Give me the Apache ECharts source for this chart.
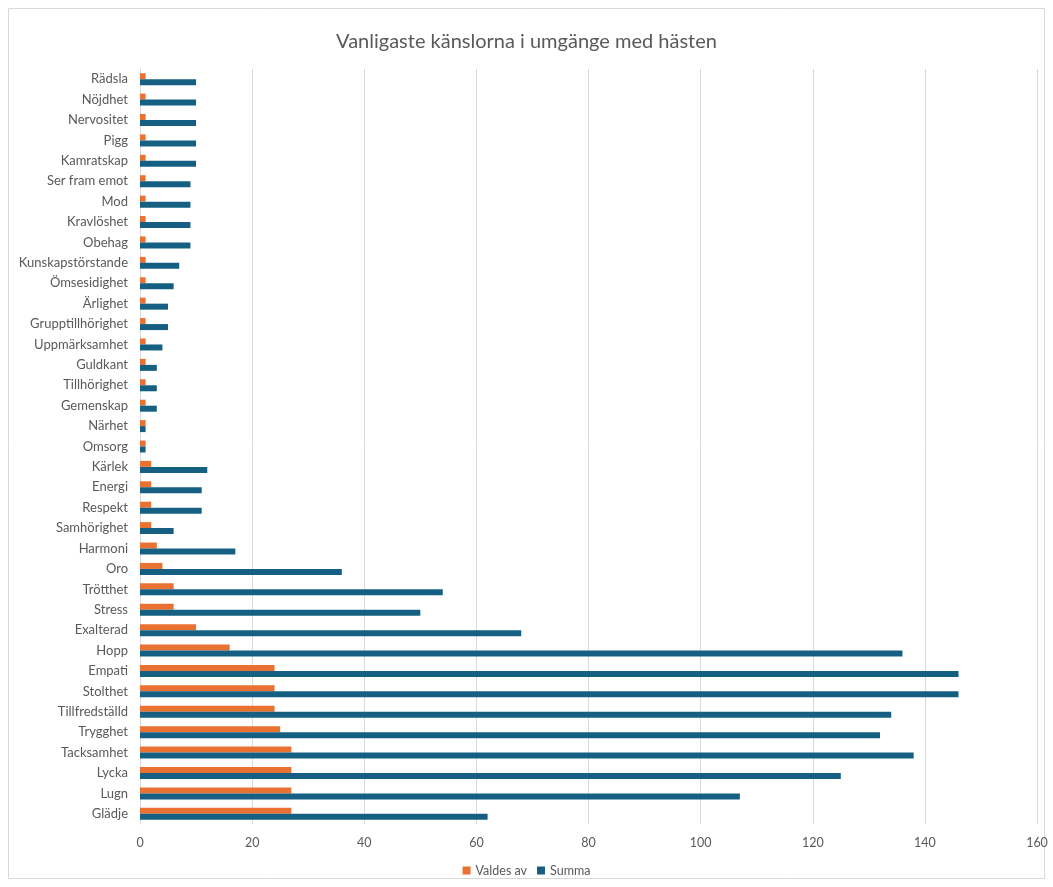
<!DOCTYPE html>
<html>
<head>
<meta charset="utf-8">
<script src="https://cdn.jsdelivr.net/npm/echarts@6/dist/echarts.min.js"></script>
<style>
  html, body { margin: 0; padding: 0; background: #fff; }
  #chart { width: 1053px; height: 887px; }
</style>
</head>
<body>
<div id="chart"></div>
<script>
// categories bottom -> top
var categories = ["Glädje", "Lugn", "Lycka", "Tacksamhet", "Trygghet", "Tillfredställd", "Stolthet", "Empati", "Hopp",
  "Exalterad", "Stress", "Trötthet", "Oro", "Harmoni", "Samhörighet", "Respekt", "Energi", "Kärlek", "Omsorg",
  "Närhet", "Gemenskap", "Tillhörighet", "Guldkant", "Uppmärksamhet", "Grupptillhörighet", "Ärlighet",
  "Ömsesidighet", "Kunskapstörstande", "Obehag", "Kravlöshet", "Mod", "Ser fram emot", "Kamratskap", "Pigg",
  "Nervositet", "Nöjdhet", "Rädsla"];
var valdesAv = [27, 27, 27, 27, 25, 24, 24, 24, 16, 10, 6, 6, 4, 3, 2, 2, 2, 2, 1,
  1, 1, 1, 1, 1, 1, 1, 1, 1, 1, 1, 1, 1, 1, 1, 1, 1, 1];
var summa = [62, 107, 125, 138, 132, 134, 146, 146, 136, 68, 50, 54, 36, 17, 6, 11, 11, 12, 1,
  1, 3, 3, 3, 4, 5, 5, 6, 7, 9, 9, 9, 9, 10, 10, 10, 10, 10];
var xTicks = [0, 20, 40, 60, 80, 100, 120, 140, 160];

var chart = echarts.init(document.getElementById("chart"));
var textColor = "#595959";
var font = "Lato, 'Noto Sans', sans-serif";

var option = {
  backgroundColor: "#fff",
  animation: false,
  textStyle: { fontFamily: font },
  graphic: [{
    type: "rect",
    shape: { x: 8.5, y: 8.5, width: 1036, height: 870 },
    style: { fill: "none", stroke: "#d9d9d9", lineWidth: 1 }
  }],
  title: {
    text: "Vanligaste känslorna i umgänge med hästen",
    left: "center",
    top: 27,
    textStyle: { color: textColor, fontSize: 20, fontWeight: "normal", fontFamily: font }
  },
  legend: {
    bottom: 5,
    left: "center",
    itemWidth: 8,
    itemHeight: 8,
    itemGap: 10,
    icon: "rect",
    textStyle: { color: textColor, fontSize: 12.5, fontFamily: font },
    data: ["Valdes av", "Summa"]
  },
  grid: { left: 140, right: 16, top: 69, bottom: 63, containLabel: false },
  xAxis: {
    type: "value",
    min: xTicks[0],
    max: xTicks[xTicks.length - 1],
    interval: 20,
    axisLine: { show: false },
    axisTick: { show: false },
    axisLabel: { color: textColor, fontSize: 12.5, margin: 12 },
    splitLine: { lineStyle: { color: "#d9d9d9", width: 1 } }
  },
  yAxis: {
    type: "category",
    data: categories,
    axisLine: { show: true, lineStyle: { color: "#d9d9d9" } },
    axisTick: { show: false },
    axisLabel: { color: textColor, fontSize: 13, margin: 12 }
  },
  series: [
    {
      name: "Valdes av",
      type: "bar",
      data: valdesAv,
      barWidth: 6,
      barGap: "0%",
      itemStyle: { color: "#E97132" }
    },
    {
      name: "Summa",
      type: "bar",
      data: summa,
      barWidth: 6,
      barGap: "0%",
      itemStyle: { color: "#156082" }
    }
  ]
};
chart.setOption(option);
</script>
</body>
</html>
